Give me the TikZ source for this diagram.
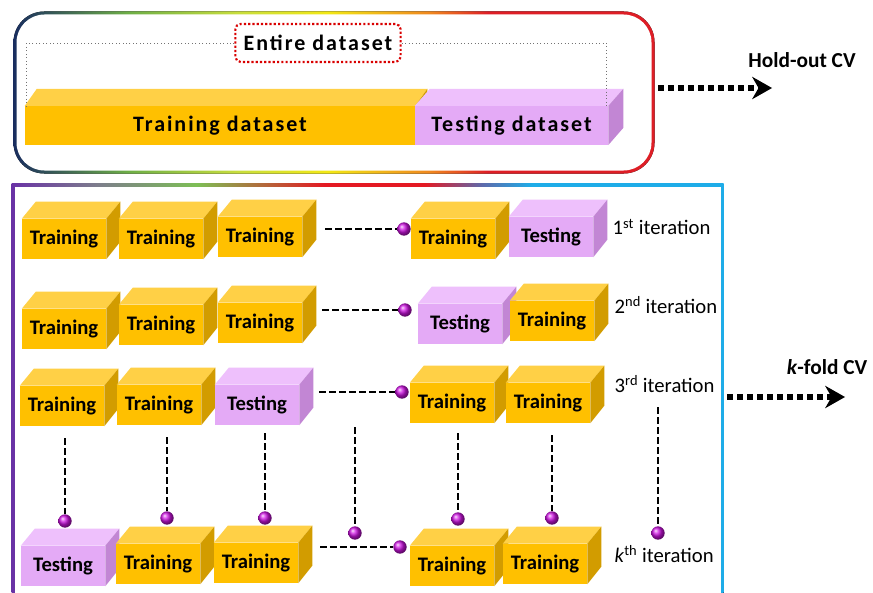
\documentclass[tikz,border=0pt]{standalone}
\usepackage{fontspec}
\setmainfont{Carlito}
\usetikzlibrary{arrows.meta,calc}

\definecolor{fronttrain}{RGB}{255,192,0}
\definecolor{toptrain}{RGB}{255,208,70}
\definecolor{sidetrain}{RGB}{210,156,0}
\definecolor{fronttest}{RGB}{228,170,246}
\definecolor{toptest}{RGB}{238,192,252}
\definecolor{sidetest}{RGB}{194,134,212}
\definecolor{knobcol}{RGB}{205,20,225}
% rim colours
\definecolor{rimnavy}{RGB}{25,45,95}
\definecolor{rimgreen}{RGB}{110,175,70}
\definecolor{rimlime}{RGB}{200,222,60}
\definecolor{rimyellow}{RGB}{242,232,20}
\definecolor{rimorange}{RGB}{240,135,30}
\definecolor{rimred}{RGB}{222,30,38}
\definecolor{kpurple}{RGB}{105,50,165}
\definecolor{kgray}{RGB}{125,125,140}
\definecolor{kgreen}{RGB}{125,190,85}
\definecolor{kred}{RGB}{228,25,35}
\definecolor{kslate}{RGB}{95,105,170}
\definecolor{kcyan}{RGB}{30,172,232}

\pgfdeclarehorizontalshading{holdrim}{100bp}{color(0bp)=(rimnavy); color(25bp)=(rimnavy);
  color(34bp)=(rimgreen); color(42.5bp)=(rimlime); color(49.5bp)=(rimyellow);
  color(57.5bp)=(rimorange); color(62bp)=(rimred); color(100bp)=(rimred)}
\pgfdeclarehorizontalshading{kfoldrim}{100bp}{color(0bp)=(kpurple); color(25bp)=(kpurple);
  color(31bp)=(kgray); color(38bp)=(kgreen); color(47bp)=(kred); color(54bp)=(kred);
  color(58bp)=(kslate); color(61.5bp)=(kcyan); color(100bp)=(kcyan)}

\tikzset{
  block/.style={inner sep=0pt, minimum width=63pt, minimum height=30pt, fill=front#1,
    font=\fontsize{15.5}{18}\selectfont\bfseries},
  bar/.style={inner sep=0pt, minimum height=29pt, fill=front#1,
    font=\fontsize{16.5}{19}\selectfont\bfseries\addfontfeatures{LetterSpace=9}},
  knob/.style={circle, inner sep=0pt, minimum size=10pt, shading=ball, ball color=knobcol},
  link/.style={line width=2.2pt, dash pattern=on 5pt off 2.5pt},
  fat arrow/.style={line width=4.5pt, dash pattern=on 4.5pt off 3pt,
    -{Stealth[length=15pt,width=17pt,line width=0pt]}},
  bracket/.style={draw=black!55, line width=0.6pt, dotted},
  iter/.style={anchor=west, font=\fontsize{15.5}{19}\selectfont},
  cvlabel/.style={font=\fontsize{16}{19}\selectfont\bfseries},
}

\begin{document}
\begin{tikzpicture}[x=0.75pt, y=-0.75pt]
  \useasboundingbox (0,0) rectangle (873,592);
  \clip (0,0) rectangle (873,592);

  % hold-out panel
  \fill[shading=holdrim, rounded corners=23pt] (13.5,11.5) rectangle (654.5,173.5);
  \fill[white, rounded corners=21pt] (16.5,14.5) rectangle (651.5,170.5);

  \node[bar=train, minimum width=292.5pt] (trainbar) at (220,125.5) {Training dataset};
  \fill[fill=toptrain] (trainbar.north west) -- ++(12,-17) -- ([shift={(12,-17)}]trainbar.north east) -- (trainbar.north east) -- cycle;
  \fill[fill=sidetrain] (trainbar.north east) -- ++(12,-17) -- ++(0,39) -- (trainbar.south east) -- cycle;
  \node[bar=test, minimum width=144.75pt] (testbar) at (511.5,125.5) {Testing dataset};
  \fill[fill=toptest] (testbar.north west) -- ++(15,-17) -- ([shift={(15,-17)}]testbar.north east) -- (testbar.north east) -- cycle;
  \fill[fill=sidetest] (testbar.north east) -- ++(15,-17) -- ++(0,39) -- (testbar.south east) -- cycle;

  \node[draw=red!85!black, fill=white, line width=1.6pt, dash pattern=on 1.6pt off 1.6pt,
    rounded corners=4pt, minimum width=124pt, minimum height=28.5pt, inner sep=0pt,
    font=\fontsize{16.5}{19}\selectfont\bfseries\addfontfeatures{LetterSpace=9}] (entire) at (318,43) {Entire dataset};
  \draw[bracket] (entire.west) -| ([xshift=1.5pt]trainbar.north west);
  \draw[bracket] (entire.east) -| ([xshift=-1.5pt]testbar.north east);

  \coordinate (hoA) at (658,88);
  \coordinate (hoB) at (772,88);
  \draw[fat arrow] (hoA) -- (hoB);
  \node[cvlabel] (holdout) at (802,60) {Hold-out CV};

  % k-fold panel
  \fill[shading=kfoldrim] (11.5,183.5) rectangle (723.5,600);
  \fill[white] (14.5,186.5) rectangle (720.5,600);

  \foreach \b/\kind/\x/\y/\txt in {
      r1c1/train/64/239/Training, r1c2/train/161/239/Training, r1c3/train/260/237/Training,
      r1c4/train/453/239/Training, r1c5/test/551/237/Testing,
      r2c1/train/64/329/Training, r2c2/train/161/325/Training, r2c3/train/260/323/Training,
      r2c4/test/460/324/Testing, r2c5/train/552/321/Training,
      r3c1/train/62/406/Training, r3c2/train/159/405/Training, r3c3/test/257/405/Testing,
      r3c4/train/452/403/Training, r3c5/train/548/403/Training,
      rkc1/test/63/566/Testing, rkc2/train/158/564/Training, rkc3/train/256/563/Training,
      rkc4/train/452/566/Training, rkc5/train/545/564/Training}{
    \node[block=\kind] (\b) at (\x,\y) {\txt};
    \fill[fill=top\kind] (\b.north west) -- ++(14,-17) -- ([shift={(14,-17)}]\b.north east) -- (\b.north east) -- cycle;
    \fill[fill=side\kind] (\b.north east) -- ++(14,-17) -- ++(0,40) -- (\b.south east) -- cycle;
  }

  % knobs
  \node[knob] (b1) at (404,229) {};
  \node[knob] (b2) at (405,310) {};
  \node[knob] (b3) at (402,392) {};
  \node[knob] (bk) at (400,547) {};
  \node[knob] (bk1) at (65,521) {};
  \node[knob] (bk2) at (167,518) {};
  \node[knob] (bk3) at (265,518) {};
  \node[knob] (bk4) at (355,533) {};
  \node[knob] (bk5) at (458,519) {};
  \node[knob] (bk6) at (552,518) {};
  \node[knob] (bk7) at (658,533) {};

  \draw[link] ($(r1c3.east |- b1)+(23,0)$) -- (b1.west);
  \draw[link] ($(r2c3.east |- b2)+(20,0)$) -- (b2.west);
  \draw[link] ($(r3c3.east |- b3)+(20,0)$) -- (b3.west);
  \draw[link] ($(rkc3.east |- bk)+(22,0)$) -- (bk.west);
  \draw[link] ($(bk1 |- r3c1.south)+(0,12)$) -- (bk1.north);
  \draw[link] ($(bk2 |- r3c2.south)+(0,12)$) -- (bk2.north);
  \draw[link] ($(bk3 |- r3c3.south)+(0,8)$) -- (bk3.north);
  \draw[link] ($(bk4 |- r3c3.south)+(0,2)$) -- (bk4.north);
  \draw[link] ($(bk5 |- r3c4.south)+(0,10)$) -- (bk5.north);
  \draw[link] ($(bk6 |- r3c5.south)+(0,12)$) -- (bk6.north);
  \draw[link] ($(bk7 |- r3c5)+(0,4)$) -- (bk7.north);

  \node[iter] (it1) at (608,227) {1\textsuperscript{st} iteration};
  \node[iter] (it2) at (610,305) {2\textsuperscript{nd} iteration};
  \node[iter] (it3) at (610,384) {3\textsuperscript{rd} iteration};
  \node[iter] (itk) at (610,554) {\textit{k}\textsuperscript{th} iteration};

  \coordinate (kfA) at (727,397);
  \coordinate (kfB) at (845,397);
  \draw[fat arrow] (kfA) -- (kfB);
  \node[cvlabel] (kfold) at (827,367) {\textit{k}-fold CV};
\end{tikzpicture}
\end{document}
